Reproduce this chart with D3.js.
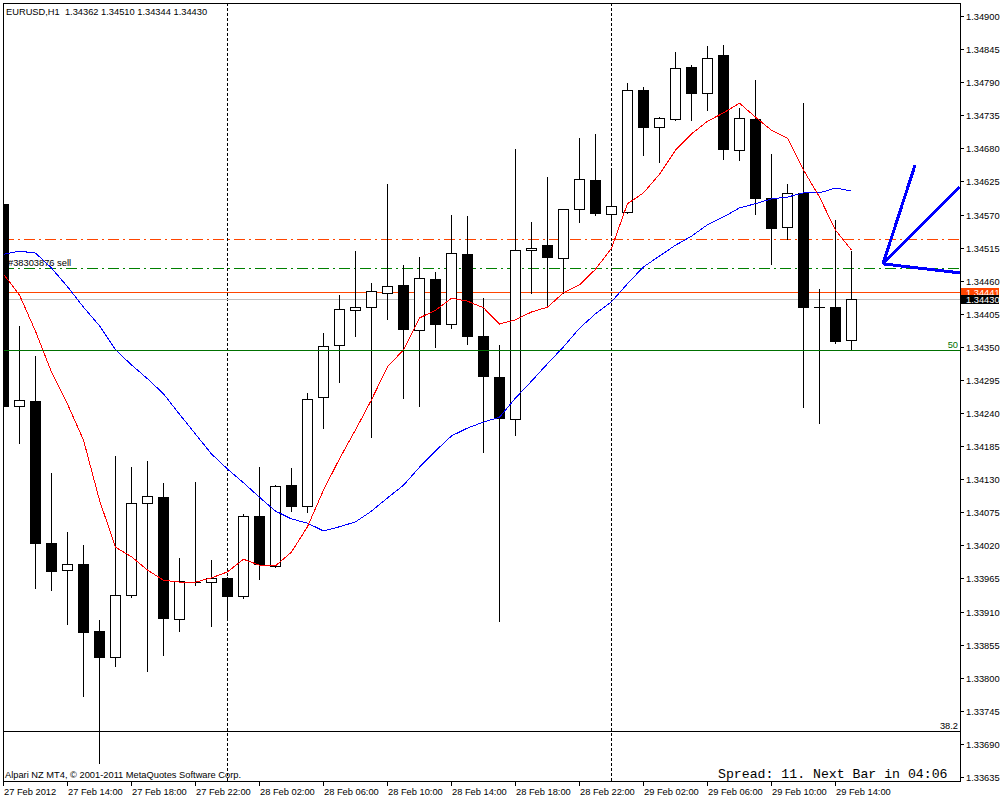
<!DOCTYPE html>
<html>
<head>
<meta charset="utf-8">
<script src="https://cdn.jsdelivr.net/npm/d3@7"></script>
<style>
  body { margin: 0; background: #fff; }
  text { font-family: "Liberation Sans", Arial, sans-serif; font-size: 9.3px; }
</style>
</head>
<body>
<div id="chart"></div>
<script>
// EURUSD H1 bars, first bar = 27 Feb 2012 10:00
const opens = [1.34588, 1.34252, 1.34260, 1.34024, 1.33979, 1.33989, 1.33877, 1.33834, 1.33937, 1.34090,
  1.34100, 1.33898, 1.33959, 1.33959, 1.33966, 1.33936, 1.34069, 1.33986, 1.34120, 1.34085,
  1.34267, 1.34353, 1.34411, 1.34416, 1.34440, 1.34453, 1.34378, 1.34463, 1.34388, 1.34504,
  1.34368, 1.34300, 1.34230, 1.34511, 1.34519, 1.34498, 1.34579, 1.34627, 1.34571, 1.34574,
  1.34777, 1.34715, 1.34729, 1.34815, 1.34772, 1.34835, 1.34677, 1.34729, 1.34597, 1.34549,
  1.34606, 1.34416, 1.34416, 1.34362];
const highs = [1.34607, 1.34385, 1.34335, 1.34140, 1.34042, 1.34021, 1.33896, 1.34169, 1.34150, 1.34160,
  1.34124, 1.33999, 1.34125, 1.33996, 1.33967, 1.34072, 1.34150, 1.34120, 1.34149, 1.34273,
  1.34373, 1.34436, 1.34509, 1.34456, 1.34621, 1.34486, 1.34499, 1.34474, 1.34569, 1.34568,
  1.34431, 1.34353, 1.34679, 1.34558, 1.34632, 1.34580, 1.34697, 1.34704, 1.34644, 1.34789,
  1.34782, 1.34732, 1.34840, 1.34819, 1.34850, 1.34852, 1.34747, 1.34794, 1.34671, 1.34621,
  1.34755, 1.34446, 1.34561, 1.34510];
const lows = [1.34170, 1.34190, 1.33949, 1.33946, 1.33889, 1.33770, 1.33658, 1.33820, 1.33934, 1.33811,
  1.33838, 1.33877, 1.33954, 1.33886, 1.33901, 1.33933, 1.33964, 1.33984, 1.34077, 1.34076,
  1.34215, 1.34292, 1.34368, 1.34200, 1.34396, 1.34265, 1.34252, 1.34350, 1.34381, 1.34355,
  1.34175, 1.33894, 1.34203, 1.34440, 1.34420, 1.34440, 1.34558, 1.34569, 1.34539, 1.34572,
  1.34669, 1.34657, 1.34727, 1.34727, 1.34744, 1.34662, 1.34661, 1.34571, 1.34488, 1.34529,
  1.34250, 1.34223, 1.34357, 1.34344];
const closes = [1.34250, 1.34262, 1.34022, 1.33976, 1.33989, 1.33874, 1.33833, 1.33937, 1.34090, 1.34102,
  1.33898, 1.33961, 1.33957, 1.33966, 1.33934, 1.34069, 1.33987, 1.34119, 1.34084, 1.34263,
  1.34351, 1.34413, 1.34416, 1.34443, 1.34451, 1.34378, 1.34464, 1.34386, 1.34506, 1.34366,
  1.34300, 1.34230, 1.34511, 1.34514, 1.34498, 1.34579, 1.34629, 1.34571, 1.34584, 1.34777,
  1.34714, 1.34730, 1.34814, 1.34770, 1.34830, 1.34677, 1.34730, 1.34596, 1.34546, 1.34606,
  1.34415, 1.34414, 1.34358, 1.34430];

// moving averages (red = fast, blue = slow)
const maFast = [1.34471, 1.34436, 1.34376, 1.34308, 1.34255, 1.34195, 1.34095, 1.34017, 1.34001, 1.33979,
  1.33962, 1.33959, 1.33959, 1.33966, 1.33976, 1.33997, 1.33987, 1.33986, 1.34009, 1.34051,
  1.34112, 1.34164, 1.34212, 1.34262, 1.34317, 1.34345, 1.34398, 1.34411, 1.34431, 1.34426,
  1.34415, 1.34388, 1.34395, 1.34408, 1.34416, 1.34440, 1.34453, 1.34479, 1.34514, 1.34588,
  1.34606, 1.34637, 1.34677, 1.34704, 1.34725, 1.34739, 1.34755, 1.34732, 1.34710, 1.34697,
  1.34644, 1.34599, 1.34544, 1.34511];
const maSlow = [1.34504, 1.34509, 1.34506, 1.34481, 1.34450, 1.34416, 1.34385, 1.34345, 1.34320, 1.34297,
  1.34272, 1.34238, 1.34205, 1.34172, 1.34147, 1.34124, 1.34100, 1.34077, 1.34064, 1.34057,
  1.34044, 1.34051, 1.34059, 1.34077, 1.34099, 1.34120, 1.34150, 1.34177, 1.34202, 1.34215,
  1.34225, 1.34233, 1.34265, 1.34293, 1.34322, 1.34350, 1.34381, 1.34405, 1.34425, 1.34455,
  1.34483, 1.34501, 1.34519, 1.34534, 1.34553, 1.34566, 1.34581, 1.34588, 1.34596, 1.34599,
  1.34606, 1.34606, 1.34614, 1.34609];

// axis labels
const timeLabels = ["27 Feb 2012", "27 Feb 14:00", "27 Feb 18:00", "27 Feb 22:00", "28 Feb 02:00",
  "28 Feb 06:00", "28 Feb 10:00", "28 Feb 14:00", "28 Feb 18:00", "28 Feb 22:00",
  "29 Feb 02:00", "29 Feb 06:00", "29 Feb 10:00", "29 Feb 14:00"];
const priceTicks = [1.34900, 1.34845, 1.34790, 1.34735, 1.34680, 1.34625, 1.34570, 1.34515,
  1.34460, 1.34405, 1.34350, 1.34295, 1.34240, 1.34185, 1.34130, 1.34075, 1.34020, 1.33965,
  1.33910, 1.33855, 1.33800, 1.33745, 1.33690, 1.33635];

// day separators (bar index of 00:00)
const daySeparators = [14, 38];

// order lines and fibo levels
const stopLevel = 1.34529;
const takeLevel = 1.34481;
const orderPrice = 1.34441;
const bidPrice = 1.34430;
const fiboLevels = [1.34345, 1.33711];
const fiboNames = ["50", "38.2"];

// hand drawn fan (bar index, price)
const fanStart = [55, 1.34488];
const fanEnds = [[57, 1.34652], [59.8, 1.34616], [59.8, 1.34473]];

const width = 1000, height = 800;
const plot = { left: 3, top: 3, right: 960, bottom: 781 };

const svg = d3.select("#chart")
    .append("svg")
    .attr("width", width)
    .attr("height", height)
    .style("display", "block");

svg.append("rect").attr("width", width).attr("height", height).attr("fill", "#fff");

// 16px per bar, bar 0 sits on the left border
const xScale = d3.scaleLinear()
    .domain([0, (plot.right - plot.left) / 16])
    .range([plot.left, plot.right]);

const yScale = d3.scaleLinear()
    .domain([1.33635, 1.34900])
    .range([777, 16]);

const py = v => Math.round(yScale(v));
const px = i => Math.round(xScale(i));

svg.append("clipPath").attr("id", "clip")
  .append("rect")
    .attr("x", plot.left).attr("y", plot.top)
    .attr("width", plot.right - plot.left).attr("height", plot.bottom - plot.top);

const g = svg.append("g").attr("clip-path", "url(#clip)");

// day separators
g.selectAll(".sep")
  .data(daySeparators)
  .join("line")
    .attr("x1", d => px(d) + 0.5).attr("x2", d => px(d) + 0.5)
    .attr("y1", plot.top).attr("y2", plot.bottom)
    .attr("stroke", "#000")
    .attr("stroke-dasharray", "3,2")
    .attr("shape-rendering", "crispEdges");

// order lines
const hline = (v, color, dash) => g.append("line")
    .attr("x1", plot.left).attr("x2", plot.right)
    .attr("y1", py(v) + 0.5).attr("y2", py(v) + 0.5)
    .attr("stroke", color)
    .attr("stroke-dasharray", dash)
    .attr("shape-rendering", "crispEdges");

hline(stopLevel, "#ff4500", "11,4,2,4");
hline(takeLevel, "#008000", "11,4,2,4");
hline(orderPrice, "#ff4500", null);
hline(bidPrice, "#c0c0c0", null);

g.append("text")
    .attr("x", 8).attr("y", py(takeLevel) - 2)
    .attr("fill", "#000")
    .text("#38303876 sell");

// candles
const idx = d3.range(opens.length);

g.selectAll(".wick")
  .data(idx)
  .join("line")
    .attr("x1", i => px(i) + 0.5).attr("x2", i => px(i) + 0.5)
    .attr("y1", i => py(highs[i])).attr("y2", i => py(lows[i]) + 1)
    .attr("stroke", "#000")
    .attr("shape-rendering", "crispEdges");

g.selectAll(".bear")
  .data(idx.filter(i => closes[i] < opens[i]))
  .join("rect")
    .attr("x", i => px(i) - 5)
    .attr("y", i => py(opens[i]))
    .attr("width", 11)
    .attr("height", i => Math.max(1, py(closes[i]) - py(opens[i])))
    .attr("fill", "#000")
    .attr("shape-rendering", "crispEdges");

g.selectAll(".bull")
  .data(idx.filter(i => closes[i] >= opens[i]))
  .join("rect")
    .attr("x", i => px(i) - 4.5)
    .attr("y", i => py(closes[i]) + 0.5)
    .attr("width", 10)
    .attr("height", i => Math.max(1, py(opens[i]) - py(closes[i])))
    .attr("fill", "#fff")
    .attr("stroke", "#000")
    .attr("shape-rendering", "crispEdges");

// moving averages
const maLine = d3.line()
    .x((d, i) => xScale(i) + 0.5)
    .y(d => yScale(d));

g.append("path").datum(maSlow)
    .attr("d", maLine)
    .attr("fill", "none").attr("stroke", "#0000ff")
    .attr("shape-rendering", "crispEdges");

g.append("path").datum(maFast)
    .attr("d", maLine)
    .attr("fill", "none").attr("stroke", "#ff0000")
    .attr("shape-rendering", "crispEdges");

// fibo levels
fiboLevels.forEach((v, k) => {
  const color = k === 0 ? "#007000" : "#000";
  hline(v, color, null);
  g.append("text")
      .attr("x", plot.right - 2).attr("y", py(v) - 2)
      .attr("text-anchor", "end")
      .attr("fill", color)
      .text(fiboNames[k]);
});

// fan
g.selectAll(".fan")
  .data(fanEnds)
  .join("line")
    .attr("x1", xScale(fanStart[0])).attr("y1", yScale(fanStart[1]))
    .attr("x2", d => xScale(d[0])).attr("y2", d => yScale(d[1]))
    .attr("stroke", "#0000ff")
    .attr("stroke-width", 3)
    .attr("shape-rendering", "crispEdges");

// frame
svg.append("rect")
    .attr("x", plot.left + 0.5).attr("y", plot.top + 0.5)
    .attr("width", plot.right - plot.left).attr("height", plot.bottom - plot.top)
    .attr("fill", "none").attr("stroke", "#000")
    .attr("shape-rendering", "crispEdges");

// price axis
const yAxis = svg.append("g");
yAxis.selectAll("line")
  .data(priceTicks)
  .join("line")
    .attr("x1", plot.right).attr("x2", plot.right + 4)
    .attr("y1", d => py(d) + 0.5).attr("y2", d => py(d) + 0.5)
    .attr("stroke", "#000")
    .attr("shape-rendering", "crispEdges");
yAxis.selectAll("text")
  .data(priceTicks)
  .join("text")
    .attr("x", 966).attr("y", d => py(d) + 3.5)
    .text(d => d.toFixed(5));

// price labels for order and bid
[[orderPrice, "#ff4500"], [bidPrice, "#000"]].forEach(([v, color]) => {
  svg.append("rect")
      .attr("x", 961).attr("y", py(v) - 4)
      .attr("width", 38).attr("height", 9)
      .attr("fill", color);
  svg.append("text")
      .attr("x", 966).attr("y", py(v) + 3.5)
      .attr("fill", "#fff")
      .text(v.toFixed(5));
});

// time axis
const xTicks = timeLabels.map((d, k) => k * 4);
svg.selectAll(".xt")
  .data(xTicks)
  .join("line")
    .attr("x1", d => px(d) + 0.5).attr("x2", d => px(d) + 0.5)
    .attr("y1", plot.bottom).attr("y2", plot.bottom + 5)
    .attr("stroke", "#000")
    .attr("shape-rendering", "crispEdges");
svg.selectAll(".xl")
  .data(xTicks)
  .join("text")
    .attr("x", d => px(d) + 1).attr("y", 795)
    .text((d, k) => timeLabels[k]);

// texts
svg.append("text").attr("x", 6).attr("y", 15)
    .text("EURUSD,H1  1.34362 1.34510 1.34344 1.34430")
    .style("white-space", "pre");
svg.append("text").attr("x", 5).attr("y", 778)
    .text("Alpari NZ MT4, © 2001-2011 MetaQuotes Software Corp.");
svg.append("text").attr("x", 718).attr("y", 777.5)
    .style("font-family", "'Liberation Mono', 'Courier New', monospace")
    .style("font-size", "13.2px")
    .style("white-space", "pre")
    .text("Spread: 11. Next Bar in 04:06");
</script>
</body>
</html>
